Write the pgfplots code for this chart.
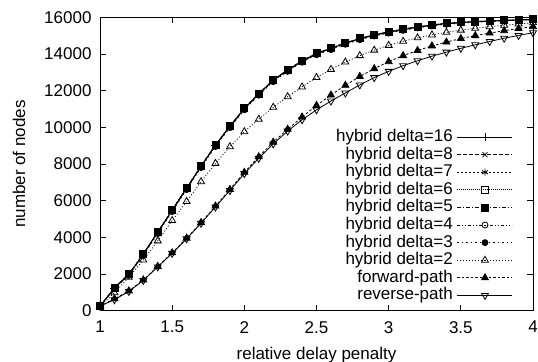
\documentclass[border=0pt]{standalone}
\usepackage{fontspec}
\setmainfont{Liberation Sans}
\usepackage{pgfplots}
\pgfplotsset{compat=1.18}
\usepackage{pgfplotstable}

\pgfplotstableread{
x   d16   d8    d7    d6    d5    d4    d3    d2    fwd   rev
1.0 250   250   250   250   250   250   250   250   250   250
1.1 1230  1240  1230  1250  1250  1220  1200  980   650   600
1.2 1980  1990  1980  2000  2000  1960  1930  1820  1080  1050
1.3 3080  3090  3070  3100  3100  3050  3010  2770  1680  1650
1.4 4280  4290  4270  4300  4300  4250  4210  3810  2420  2390
1.5 5480  5490  5470  5500  5500  5450  5410  4920  3160  3130
1.6 6680  6690  6670  6700  6700  6650  6610  5960  3960  3920
1.7 7880  7890  7870  7900  7900  7850  7810  7040  4810  4770
1.8 9030  9040  9020  9050  9050  9000  8960  8040  5710  5660
1.9 10060 10070 10050 10080 10080 10030 9990  8950  6620  6560
2.0 11030 11040 11020 11050 11050 11000 10960 9770  7550  7480
2.1 11830 11840 11820 11850 11850 11800 11760 10450 8400  8320
2.2 12570 12580 12560 12590 12590 12540 12500 11100 9200  9100
2.3 13130 13140 13120 13150 13150 13100 13060 11680 9900  9800
2.4 13620 13630 13610 13640 13640 13590 13560 12210 10570 10420
2.5 14030 14040 14020 14050 14050 14000 13970 12730 11200 10960
2.6 14310 14320 14300 14330 14330 14290 14250 13170 11770 11440
2.7 14600 14610 14590 14620 14620 14580 14540 13570 12300 11880
2.8 14840 14850 14830 14860 14860 14820 14790 13920 12780 12320
2.9 15040 15050 15030 15060 15060 15020 14990 14220 13210 12720
3.0 15200 15210 15190 15220 15220 15180 15150 14480 13590 13060
3.1 15350 15360 15340 15370 15370 15330 15300 14700 13920 13370
3.2 15470 15480 15470 15490 15490 15460 15430 14890 14200 13640
3.3 15580 15590 15580 15600 15600 15570 15540 15050 14450 13890
3.4 15665 15670 15665 15680 15680 15650 15630 15190 14660 14110
3.5 15725 15730 15725 15740 15740 15715 15690 15310 14850 14320
3.6 15770 15775 15770 15780 15780 15755 15740 15410 15010 14510
3.7 15805 15810 15805 15815 15815 15795 15780 15500 15150 14690
3.8 15835 15840 15835 15845 15845 15830 15815 15580 15280 14870
3.9 15865 15870 15865 15875 15875 15860 15850 15650 15400 15020
4.0 15890 15895 15890 15900 15900 15885 15875 15710 15500 15170
}\data

\begin{document}
\begin{tikzpicture}[font=\fontsize{17bp}{20bp}\selectfont]
\useasboundingbox (0,0) rectangle (538bp,362bp);
\begin{axis}[
  at={(100bp,51.3bp)}, anchor=south west,
  scale only axis, width=433bp, height=293.2bp,
  xmin=1, xmax=4, ymin=0, ymax=16000,
  xtick={1,1.5,2,2.5,3,3.5,4},
  ytick={0,2000,4000,6000,8000,10000,12000,14000,16000},
  scaled ticks=false,
  /pgf/number format/1000 sep={},
  /pgf/number format/assume math mode=true,
  tick align=inside, major tick length=6bp,
  axis line style={line width=0.8bp},
  tick style={line width=0.8bp, black},
  xticklabel style={yshift=-7bp},
  yticklabel style={xshift=-5bp},
  xlabel={relative delay penalty},
  ylabel={number of nodes},
  xlabel style={at={(axis description cs:0.5,-0.153)}, anchor=center, inner sep=0pt},
  ylabel style={at={(axis description cs:-0.187,0.5)}, anchor=center, inner sep=0pt},
  clip=false,
  legend style={at={(axis description cs:0.954,0.623)}, anchor=north east,
    draw=none, fill=none, inner sep=0pt,
    nodes={text height=12bp, text depth=3bp, inner sep=1.3bp},
    column sep=3bp},
  legend plot pos=right, legend cell align=right,
  legend image code/.code={\draw[mark repeat=2, mark phase=2, #1] plot coordinates {(0bp,0bp) (27.5bp,0bp) (55bp,0bp)};},
  every axis plot/.append style={line width=0.8bp, black, mark options={solid}},
]
\addplot[black, mark=+, mark size=4bp] table[x=x,y=d16]{\data};
\addlegendentry{hybrid delta=16}
\addplot[black, dash pattern=on 4bp off 2bp, mark=x, mark size=3.5bp] table[x=x,y=d8]{\data};
\addlegendentry{hybrid delta=8}
\addplot[black, dash pattern=on 1.5bp off 2.5bp, mark=asterisk, mark size=3.5bp] table[x=x,y=d7]{\data};
\addlegendentry{hybrid delta=7}
\addplot[black, dash pattern=on 1bp off 1bp, mark=square, mark size=3.2bp] table[x=x,y=d6]{\data};
\addlegendentry{hybrid delta=6}
\addplot[black, dash pattern=on 4bp off 2bp on 1bp off 2bp, mark=square*, mark size=3.5bp] table[x=x,y=d5]{\data};
\addlegendentry{hybrid delta=5}
\addplot[black, dash pattern=on 3bp off 2bp on 1bp off 2bp on 1bp off 2bp, mark=o, mark size=3bp] table[x=x,y=d4]{\data};
\addlegendentry{hybrid delta=4}
\addplot[black, dash pattern=on 1.5bp off 3bp, mark=*, mark size=3bp] table[x=x,y=d3]{\data};
\addlegendentry{hybrid delta=3}
\addplot[black, dash pattern=on 1bp off 2bp, mark=triangle, mark size=4bp] table[x=x,y=d2]{\data};
\addlegendentry{hybrid delta=2}
\addplot[black, dash pattern=on 2.5bp off 2bp, mark=triangle*, mark size=4bp] table[x=x,y=fwd]{\data};
\addlegendentry{forward-path}
\addplot[black, mark=triangle, mark size=4bp, mark options={solid, rotate=180}] table[x=x,y=rev]{\data};
\addlegendentry{reverse-path}
\end{axis}
\end{tikzpicture}
\end{document}
